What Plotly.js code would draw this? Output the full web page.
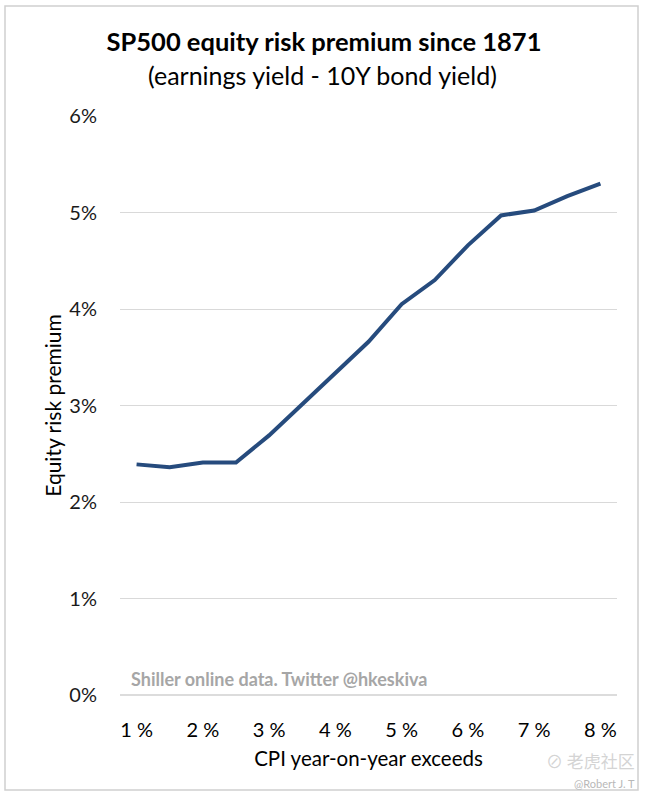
<!DOCTYPE html>
<html>
<head>
<meta charset="utf-8">
<script src="https://cdn.plot.ly/plotly-3.0.1.min.js"></script>
<style>
html,body{margin:0;padding:0;background:#fff;}
#chart{width:650px;height:798px;}
</style>
</head>
<body>
<div id="chart"></div>
<script>
// CPI year-on-year threshold (%)
var cpiThreshold = [1, 1.5, 2, 2.5, 3, 3.5, 4, 4.5, 5, 5.5, 6, 6.5, 7, 7.5, 8];
// Equity risk premium (%)
var riskPremium = [2.39, 2.36, 2.41, 2.41, 2.69, 3.01, 3.34, 3.66, 4.05, 4.30, 4.66, 4.97, 5.02, 5.17, 5.30];
var xTickVals = [1, 2, 3, 4, 5, 6, 7, 8];
var xTickText = ["1 %", "2 %", "3 %", "4 %", "5 %", "6 %", "7 %", "8 %"];
var yTickVals = [0, 1, 2, 3, 4, 5, 6];
var yTickText = ["0%", "1%", "2%", "3%", "4%", "5%", "6%"];

var FONT = "Lato, 'Open Sans', sans-serif";

var trace = {
  x: cpiThreshold,
  y: riskPremium,
  type: "scatter",
  mode: "lines",
  line: {color: "#264b7d", width: 4},
  hoverinfo: "x+y"
};

// plot area pixel geometry: left 120, right 617, top 116, bottom 695
var L = 120, R = 617, T = 116, B = 695;
function px(x){ return (x - L) / (R - L); }
function py(y){ return (B - y) / (B - T); }

var layout = {
  width: 650,
  height: 798,
  margin: {l: L, r: 650 - R, t: T, b: 798 - B},
  paper_bgcolor: "#ffffff",
  plot_bgcolor: "#ffffff",
  showlegend: false,
  font: {family: FONT, color: "#262626", size: 20},
  title: {
    text: "<b>SP500 equity risk premium since 1871</b>",
    font: {family: FONT, size: 25.5, color: "#000000"},
    x: 324 / 650, xref: "container", xanchor: "center",
    y: 1 - 42 / 798, yref: "container", yanchor: "middle"
  },
  xaxis: {
    range: [0.75, 8.25],
    tickmode: "array",
    tickvals: xTickVals,
    ticktext: xTickText,
    showgrid: false,
    zeroline: false,
    showline: false,
    ticks: "outside",
    ticklen: 17,
    tickcolor: "rgba(0,0,0,0)",
    tickfont: {family: FONT, size: 20, color: "#000000"},
    title: {text: "CPI year-on-year exceeds", font: {family: FONT, size: 20.5, color: "#000000"}, standoff: 11},
    fixedrange: true
  },
  yaxis: {
    range: [0, 6],
    tickmode: "array",
    tickvals: yTickVals,
    ticktext: yTickText,
    showgrid: true,
    gridcolor: "#d9d9d9",
    gridwidth: 1.3,
    zeroline: false,
    showline: false,
    ticks: "outside",
    ticklen: 18,
    tickcolor: "rgba(0,0,0,0)",
    tickfont: {family: FONT, size: 20, color: "#1a1a1a"},
    title: {text: "Equity risk premium", font: {family: FONT, size: 21, color: "#000000"}, standoff: 2},
    fixedrange: true
  },
  shapes: [
    {type: "rect", xref: "paper", yref: "paper",
     x0: px(5), x1: px(638), y0: py(790), y1: py(6),
     line: {color: "#d0d0d0", width: 1.5}, fillcolor: "rgba(0,0,0,0)", layer: "below"},
    {type: "line", xref: "paper", yref: "paper",
     x0: 0, x1: 1, y0: 0, y1: 0,
     line: {color: "#d0d0d0", width: 1.5}}
  ],
  annotations: [
    {text: "(earnings yield - 10Y bond yield)", xref: "paper", yref: "paper",
     x: px(322), y: py(75), xanchor: "center", yanchor: "middle", showarrow: false,
     font: {family: FONT, size: 25, color: "#000000"}},
    {text: "<b>Shiller online data. Twitter @hkeskiva</b>", xref: "paper", yref: "paper",
     x: px(129), y: py(679), xanchor: "left", yanchor: "middle", showarrow: false,
     font: {family: FONT, size: 18, color: "#a6a6a6"}},
    {text: "⊘ 老虎社区", xref: "paper", yref: "paper",
     x: px(637), y: py(760), xanchor: "right", yanchor: "middle", showarrow: false,
     font: {family: "'Noto Sans CJK SC', sans-serif", size: 17, color: "#d4d4d4"}},
    {text: "@Robert J. T", xref: "paper", yref: "paper",
     x: px(637), y: py(783), xanchor: "right", yanchor: "middle", showarrow: false,
     font: {family: FONT, size: 11, color: "#b8b8b8"}}
  ]
};

Plotly.newPlot("chart", [trace], layout, {displayModeBar: false, staticPlot: false});
</script>
</body>
</html>
